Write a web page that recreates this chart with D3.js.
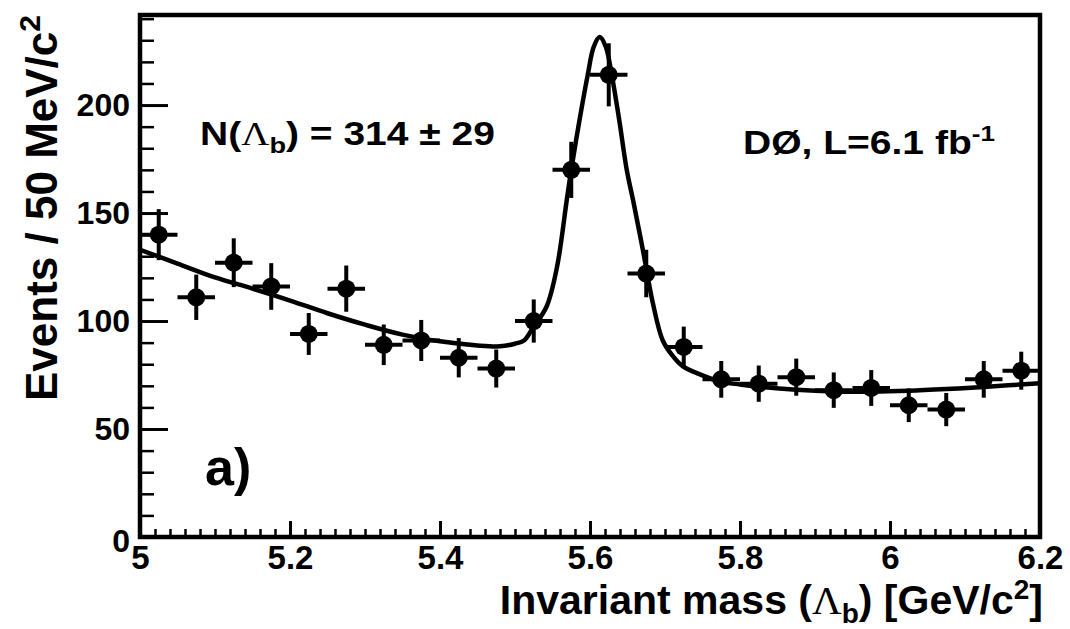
<!DOCTYPE html>
<html>
<head>
<meta charset="utf-8">
<script src="https://cdn.jsdelivr.net/npm/d3@7"></script>
<style>
  body { margin: 0; background: #fff; }
  svg { display: block; background: #fff; }
  text { font-family: "Liberation Sans", Arial, Helvetica, sans-serif; font-weight: bold; fill: #000; }
  .greek { font-family: "Liberation Serif", "DejaVu Serif", serif; font-weight: normal; }
</style>
</head>
<body>
<svg width="1070" height="629"></svg>
<script>
const w = 1070;
const h = 629;

// histogram bins (centres, 50 MeV wide) and counts
const binCenters = [5.025, 5.075, 5.125, 5.175, 5.225, 5.275, 5.325, 5.375, 5.425, 5.475, 5.525, 5.575,
                    5.625, 5.675, 5.725, 5.775, 5.825, 5.875, 5.925, 5.975, 6.025, 6.075, 6.125, 6.175];
const events = [140, 111, 127, 116, 94, 115, 89, 91, 83, 78, 100, 170,
                214, 122, 88, 73, 71, 74, 68, 69, 61, 59, 73, 77];
const errors = [11.8, 10.5, 11.3, 10.8, 9.7, 10.7, 9.4, 9.5, 9.1, 8.8, 10.0, 13.0,
                14.6, 11.0, 9.4, 8.5, 8.4, 8.6, 8.2, 8.3, 7.8, 7.7, 8.5, 8.8];
const binWidth = 0.05;

// fit curve
const fitMass = [5.000, 5.050, 5.100, 5.150, 5.200, 5.250, 5.300, 5.350, 5.400, 5.450, 5.480, 5.500,
                 5.512, 5.524, 5.542, 5.556, 5.569, 5.575, 5.586, 5.597, 5.605, 5.613, 5.621, 5.629,
                 5.639, 5.649, 5.658, 5.671, 5.684, 5.697, 5.710, 5.724, 5.745, 5.773, 5.800, 5.825,
                 5.875, 5.925, 5.975, 6.025, 6.075, 6.125, 6.200];
const fitEvents = [133, 126.6, 120.2, 115, 109.5, 103.6, 98.3, 93.7, 90.6, 88.7, 88.3, 89.5,
                   91, 97, 106.6, 125, 156, 170, 193, 214, 227, 231.5, 227, 214,
                   193, 170, 155, 132, 108, 91, 84, 79, 75.5, 72, 70.6, 69.6,
                   68.2, 67.4, 67.3, 67.7, 68.5, 69.5, 71.2];

const xTicks = [5, 5.2, 5.4, 5.6, 5.8, 6, 6.2];
const xTickLabels = ['5', '5.2', '5.4', '5.6', '5.8', '6', '6.2'];
const yTicks = [0, 50, 100, 150, 200];
const yTickLabels = ['0', '50', '100', '150', '200'];

const svg = d3.select('svg');

const x = d3.scaleLinear().domain([5, 6.2]).range([140, 1040]);
const y = d3.scaleLinear().domain([0, 241.7]).range([537, 15]);

// minor ticks
const xMinor = d3.range(0, 61).map(i => +(5 + i * 0.02).toFixed(2)).filter(v => !xTicks.includes(v));
const yMinor = d3.range(0, 250, 10).filter(v => v % 50 !== 0);

svg.append('g')
  .attr('transform', `translate(0,${y(0)})`)
  .call(d3.axisBottom(x).tickValues(xMinor).tickSize(-8).tickFormat(''))
  .call(g => g.select('.domain').remove())
  .selectAll('line').attr('stroke-width', 2.5);

svg.append('g')
  .attr('transform', `translate(${x(5)},0)`)
  .call(d3.axisLeft(y).tickValues(yMinor).tickSize(-14).tickFormat(''))
  .call(g => g.select('.domain').remove())
  .selectAll('line').attr('stroke-width', 2.5);

// major ticks + labels
const xAxis = svg.append('g')
  .attr('transform', `translate(0,${y(0)})`)
  .call(d3.axisBottom(x).tickValues(xTicks).tickSize(-16).tickPadding(9)
    .tickFormat((d, i) => xTickLabels[i]));
xAxis.select('.domain').remove();
xAxis.attr('font-size', 33);
xAxis.selectAll('line').attr('stroke-width', 3);

const yAxis = svg.append('g')
  .attr('transform', `translate(${x(5)},0)`)
  .call(d3.axisLeft(y).tickValues(yTicks).tickSize(-28).tickPadding(10)
    .tickFormat((d, i) => yTickLabels[i]));
yAxis.select('.domain').remove();
yAxis.attr('font-size', 32);
yAxis.selectAll('line').attr('stroke-width', 3);
yAxis.selectAll('text').filter(d => d === 0).attr('dy', '0.45em');

// frame
svg.append('rect')
  .attr('x', x(5))
  .attr('y', y(241.7))
  .attr('width', x(6.2) - x(5))
  .attr('height', y(0) - y(241.7))
  .attr('fill', 'none')
  .attr('stroke', '#000')
  .attr('stroke-width', 4.5);

// data points with error bars
const pts = svg.append('g')
  .selectAll('g')
  .data(binCenters.map((m, i) => ({ m, n: events[i], e: errors[i] })))
  .enter()
  .append('g');

pts.append('line')
  .attr('x1', d => x(d.m - binWidth / 2))
  .attr('x2', d => x(d.m + binWidth / 2))
  .attr('y1', d => y(d.n))
  .attr('y2', d => y(d.n))
  .attr('stroke', '#000')
  .attr('stroke-width', 4);

pts.append('line')
  .attr('x1', d => x(d.m))
  .attr('x2', d => x(d.m))
  .attr('y1', d => y(d.n - d.e))
  .attr('y2', d => y(d.n + d.e))
  .attr('stroke', '#000')
  .attr('stroke-width', 4);

pts.append('circle')
  .attr('cx', d => x(d.m))
  .attr('cy', d => y(d.n))
  .attr('r', 9)
  .attr('fill', '#000');

// fit curve
const line = d3.line()
  .x(d => x(d[0]))
  .y(d => y(d[1]))
  .curve(d3.curveCatmullRom.alpha(0.5));

svg.append('path')
  .datum(fitMass.map((m, i) => [m, fitEvents[i]]))
  .attr('d', line)
  .attr('fill', 'none')
  .attr('stroke', '#000')
  .attr('stroke-width', 4.5);

// axis titles
const xt = svg.append('text')
  .attr('x', 1043)
  .attr('y', 614)
  .attr('text-anchor', 'end')
  .attr('font-size', 41);
xt.append('tspan').text('Invariant mass (');
xt.append('tspan').attr('class', 'greek').text('\u039B');
xt.append('tspan').attr('font-size', 28).attr('dy', 9).text('b');
xt.append('tspan').attr('dy', -9).text(') [GeV/c');
xt.append('tspan').attr('font-size', 28).attr('dy', -15).text('2');
xt.append('tspan').attr('dy', 15).text(']');

const yt = svg.append('text')
  .attr('transform', 'translate(57,15) rotate(-90)')
  .attr('text-anchor', 'end')
  .attr('font-size', 44);
yt.append('tspan').text('Events / 50 MeV/c');
yt.append('tspan').attr('font-size', 30).attr('dy', -17).text('2');

// annotations, stretched to the widths seen in the picture
function fitWidth(sel, x0, y0, width) {
  const bb = sel.node().getBBox();
  sel.attr('transform', `translate(${x0},${y0}) scale(${width / bb.width},1)`);
}

const nt = svg.append('text').attr('font-size', 33);
nt.append('tspan').text('N(');
nt.append('tspan').attr('class', 'greek').text('\u039B');
nt.append('tspan').attr('font-size', 23).attr('dy', 8).text('b');
nt.append('tspan').attr('dy', -8).text(') = 314 \u00B1 29');
fitWidth(nt, 200, 145, 295);

const dt = svg.append('text').attr('font-size', 33);
dt.append('tspan').text('D\u00D8, L=6.1 fb');
dt.append('tspan').attr('font-size', 22).attr('dy', -13).text('-1');
fitWidth(dt, 743, 154, 252);

svg.append('text')
  .attr('x', 205)
  .attr('y', 485)
  .attr('font-size', 52)
  .text('a)');
</script>
</body>
</html>
